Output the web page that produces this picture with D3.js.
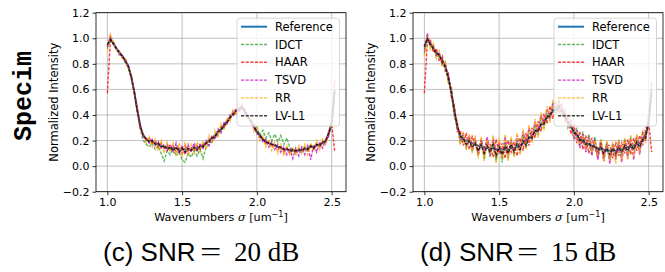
<!DOCTYPE html>
<html>
<head>
<meta charset="utf-8">
<script src="https://d3js.org/d3.v7.min.js"></script>
<style>
body { margin: 0; background: #fff; }
text { font-family: "DejaVu Sans", sans-serif; fill: #000; }
text.cap-sans { font-family: "Liberation Sans", Arimo, sans-serif; }
text.cap-serif { font-family: "Liberation Serif", serif; }
</style>
</head>
<body>
<svg id="chart" width="665" height="272"></svg>
<script>
// wavenumber samples (um^-1)
var wavenumbers = [1.00,1.02,1.04,1.06,1.08,1.10,1.12,1.14,1.16,1.18,1.20,1.22,1.24,1.26,1.28,1.30,1.32,1.34,1.36,1.38,
  1.40,1.42,1.44,1.46,1.48,1.50,1.52,1.54,1.56,1.58,1.60,1.62,1.64,1.66,1.68,1.70,1.72,1.74,1.76,1.78,
  1.80,1.82,1.84,1.86,1.88,1.90,1.92,1.94,1.96,1.98,2.00,2.02,2.04,2.06,2.08,2.10,2.12,2.14,2.16,2.18,
  2.20,2.22,2.24,2.26,2.28,2.30,2.32,2.34,2.36,2.38,2.40,2.42,2.44,2.46,2.48,2.50,2.52];

var reference = [0.94,0.99,0.96,0.92,0.89,0.86,0.83,0.78,0.70,0.58,0.44,0.31,0.24,0.21,0.20,0.19,0.18,0.17,0.16,0.15,
  0.15,0.14,0.14,0.14,0.13,0.13,0.13,0.13,0.13,0.14,0.14,0.15,0.16,0.18,0.20,0.22,0.24,0.27,0.29,0.32,
  0.35,0.38,0.41,0.43,0.45,0.46,0.43,0.39,0.35,0.31,0.27,0.24,0.21,0.19,0.18,0.17,0.16,0.15,0.14,0.13,
  0.13,0.12,0.12,0.12,0.12,0.13,0.13,0.14,0.15,0.15,0.16,0.17,0.18,0.20,0.25,0.33,0.60];

// (c) SNR = 20 dB
var idct20 = [0.92,1.00,0.95,0.93,0.88,0.85,0.82,0.77,0.69,0.57,0.42,0.29,0.20,0.17,0.15,0.18,0.13,0.16,0.10,0.04,
  0.12,0.09,0.14,0.08,0.11,0.05,0.03,0.10,0.07,0.12,0.08,0.13,0.06,0.15,0.17,0.19,0.23,0.24,0.28,0.30,
  0.34,0.39,0.40,0.44,0.43,0.47,0.44,0.37,0.36,0.33,0.31,0.24,0.28,0.22,0.26,0.20,0.25,0.19,0.24,0.17,
  0.22,0.15,0.13,0.10,0.14,0.11,0.15,0.12,0.17,0.13,0.18,0.15,0.19,0.18,0.26,0.31,0.52];
var haar20 = [0.57,0.98,0.97,0.91,0.90,0.85,0.84,0.77,0.71,0.57,0.45,0.30,0.25,0.20,0.22,0.17,0.20,0.15,0.18,0.13,
  0.17,0.12,0.16,0.11,0.15,0.10,0.16,0.11,0.15,0.12,0.16,0.13,0.18,0.16,0.21,0.19,0.25,0.25,0.31,0.30,
  0.36,0.36,0.43,0.41,0.46,0.45,0.44,0.38,0.36,0.29,0.28,0.22,0.22,0.17,0.19,0.15,0.17,0.13,0.15,0.11,
  0.14,0.10,0.13,0.11,0.13,0.12,0.14,0.12,0.16,0.13,0.17,0.15,0.19,0.19,0.27,0.34,0.12];
var tsvd20 = [0.93,1.02,0.95,0.93,0.87,0.87,0.81,0.79,0.69,0.59,0.43,0.33,0.23,0.22,0.18,0.21,0.16,0.19,0.14,0.17,
  0.12,0.17,0.11,0.18,0.10,0.16,0.09,0.17,0.11,0.18,0.12,0.17,0.14,0.20,0.16,0.24,0.21,0.29,0.26,0.34,
  0.33,0.40,0.39,0.45,0.42,0.48,0.41,0.40,0.33,0.32,0.25,0.25,0.19,0.21,0.15,0.19,0.13,0.17,0.11,0.15,
  0.09,0.14,0.06,0.14,0.08,0.15,0.09,0.16,0.05,0.17,0.11,0.19,0.14,0.21,0.23,0.37,0.66];
var rr20 = [0.90,1.03,0.97,0.91,0.90,0.84,0.84,0.76,0.72,0.56,0.47,0.29,0.26,0.18,0.23,0.15,0.21,0.12,0.20,0.10,
  0.19,0.11,0.19,0.08,0.18,0.07,0.19,0.08,0.17,0.10,0.19,0.11,0.20,0.13,0.24,0.18,0.28,0.23,0.33,0.29,
  0.38,0.35,0.44,0.40,0.49,0.44,0.45,0.36,0.38,0.27,0.30,0.20,0.24,0.15,0.21,0.12,0.19,0.10,0.17,0.08,
  0.16,0.09,0.15,0.08,0.16,0.10,0.17,0.09,0.18,0.12,0.20,0.13,0.22,0.17,0.28,0.32,0.68];
var lvl1_20 = [0.95,0.99,0.96,0.92,0.89,0.86,0.82,0.78,0.70,0.58,0.44,0.31,0.24,0.21,0.19,0.20,0.17,0.18,0.15,0.16,
  0.13,0.15,0.12,0.15,0.11,0.14,0.11,0.14,0.12,0.15,0.12,0.16,0.15,0.18,0.19,0.22,0.23,0.27,0.28,0.32,
  0.34,0.38,0.40,0.43,0.44,0.46,0.43,0.39,0.35,0.31,0.27,0.24,0.21,0.19,0.18,0.17,0.17,0.15,0.15,0.13,
  0.14,0.12,0.13,0.12,0.13,0.12,0.14,0.13,0.16,0.14,0.17,0.16,0.19,0.19,0.26,0.33,0.58];

// (d) SNR = 15 dB
var idct15 = [0.88,1.01,0.93,0.95,0.85,0.88,0.79,0.80,0.66,0.60,0.38,0.33,0.18,0.24,0.14,0.22,0.11,0.20,0.08,0.19,
  0.05,0.18,0.07,0.20,0.04,0.17,0.03,0.19,0.06,0.20,0.08,0.22,0.10,0.25,0.14,0.28,0.20,0.33,0.24,0.38,
  0.30,0.44,0.36,0.49,0.40,0.52,0.39,0.44,0.30,0.36,0.22,0.30,0.16,0.27,0.13,0.25,0.10,0.23,0.07,0.21,
  0.06,0.19,0.05,0.18,0.06,0.20,0.07,0.21,0.08,0.23,0.10,0.24,0.12,0.27,0.22,0.38,0.55];
var haar15 = [0.57,0.97,0.99,0.89,0.92,0.82,0.86,0.74,0.73,0.54,0.48,0.27,0.28,0.16,0.26,0.13,0.23,0.17,0.10,0.21,
  0.09,0.20,0.17,0.07,0.21,0.10,0.18,0.06,0.20,0.11,0.19,0.08,0.22,0.12,0.26,0.16,0.30,0.22,0.35,0.27,
  0.41,0.33,0.47,0.37,0.50,0.42,0.48,0.35,0.40,0.25,0.33,0.18,0.27,0.13,0.24,0.10,0.22,0.14,0.08,0.19,
  0.07,0.17,0.16,0.06,0.19,0.08,0.18,0.10,0.21,0.09,0.22,0.12,0.24,0.16,0.29,0.35,0.11];
var tsvd15 = [0.90,1.04,0.94,0.94,0.86,0.89,0.79,0.81,0.67,0.61,0.41,0.34,0.20,0.25,0.15,0.24,0.13,0.22,0.09,0.21,
  0.11,0.23,0.08,0.22,0.10,0.19,0.07,0.23,0.09,0.21,0.10,0.24,0.13,0.27,0.17,0.30,0.21,0.35,0.26,0.40,
  0.32,0.45,0.37,0.50,0.41,0.51,0.40,0.43,0.31,0.35,0.21,0.28,0.14,0.25,0.11,0.23,0.08,0.21,0.05,0.19,
  0.04,0.18,0.02,0.17,0.05,0.19,0.03,0.20,0.06,0.22,0.05,0.23,0.09,0.26,0.20,0.40,0.65];
var rr15 = [0.86,1.02,0.91,0.96,0.84,0.90,0.78,0.82,0.64,0.63,0.40,0.36,0.17,0.27,0.13,0.25,0.10,0.24,0.06,0.23,
  0.04,0.21,0.09,0.24,0.02,0.22,0.05,0.25,0.04,0.23,0.07,0.26,0.09,0.29,0.13,0.32,0.18,0.37,0.22,0.42,
  0.28,0.47,0.34,0.52,0.39,0.50,0.42,0.41,0.33,0.33,0.24,0.26,0.17,0.23,0.14,0.21,0.11,0.20,0.08,0.21,
  0.03,0.20,0.04,0.19,0.02,0.21,0.04,0.22,0.05,0.24,0.07,0.25,0.10,0.28,0.18,0.42,0.68];
var lvl1_15 = [0.93,1.00,0.95,0.92,0.88,0.87,0.81,0.78,0.69,0.59,0.43,0.32,0.23,0.22,0.17,0.20,0.15,0.18,0.12,0.17,
  0.10,0.16,0.11,0.17,0.08,0.15,0.09,0.16,0.10,0.17,0.11,0.18,0.13,0.20,0.16,0.23,0.22,0.28,0.27,0.33,
  0.33,0.39,0.39,0.44,0.43,0.47,0.42,0.40,0.34,0.32,0.26,0.25,0.20,0.21,0.17,0.18,0.15,0.16,0.12,0.15,
  0.10,0.14,0.09,0.14,0.10,0.15,0.11,0.16,0.12,0.17,0.13,0.19,0.15,0.21,0.22,0.35,0.57];

var methods = ["Reference", "IDCT", "HAAR", "TSVD", "RR", "LV-L1"];
var colors = ["#1f77b4", "#2ca02c", "#ff0000", "#bf00bf", "#ffa500", "#000000"];
var xTicks = [1.0, 1.5, 2.0, 2.5];
var yTicks = [-0.2, 0.0, 0.2, 0.4, 0.6, 0.8, 1.0, 1.2];
var panels = [
  {label: "(c) SNR", snr: "20 dB", series: [reference, idct20, haar20, tsvd20, rr20, lvl1_20]},
  {label: "(d) SNR", snr: "15 dB", series: [reference, idct15, haar15, tsvd15, rr15, lvl1_15]}
];

var svg = d3.select("#chart");
var top_ = 12.7, bottom = 191.7, w = 250;
var lefts = [96, 413];

// row label
svg.append("text")
  .attr("transform", "translate(31,96) rotate(-90)")
  .attr("text-anchor", "middle")
  .style("font-family", "'Liberation Mono', monospace")
  .style("font-weight", "bold")
  .style("font-size", "25px")
  .text("Specim");

panels.forEach(function(p, pi) {
  var left = lefts[pi];
  var xs = d3.scaleLinear().domain([0.924, 2.596]).range([0, w]);
  var ys = d3.scaleLinear().domain([-0.2, 1.2]).range([bottom - top_, 0]);
  var g = svg.append("g").attr("transform", "translate(" + left + "," + top_ + ")");
  var h = bottom - top_;

  g.append("clipPath").attr("id", "clip" + pi)
    .append("rect").attr("width", w).attr("height", h);

  // grid
  g.selectAll(".gx").data(xTicks).enter().append("line")
    .attr("x1", d => xs(d)).attr("x2", d => xs(d))
    .attr("y1", 0).attr("y2", h)
    .attr("stroke", "#b0b0b0").attr("stroke-width", 0.8);
  g.selectAll(".gy").data(yTicks).enter().append("line")
    .attr("y1", d => ys(d)).attr("y2", d => ys(d))
    .attr("x1", 0).attr("x2", w)
    .attr("stroke", "#b0b0b0").attr("stroke-width", 0.8);

  var line = d3.line()
    .x(function(d, i) { return xs(wavenumbers[i]); })
    .y(function(d) { return ys(d); });

  var lines = g.append("g").attr("clip-path", "url(#clip" + pi + ")");
  p.series.forEach(function(s, si) {
    lines.append("path")
      .attr("d", line(s))
      .attr("fill", "none")
      .attr("stroke", colors[si])
      .attr("stroke-width", si == 0 ? 2 : 1.4)
      .attr("stroke-opacity", si == 0 ? 1 : 0.75)
      .attr("stroke-dasharray", si == 0 ? null : "3.2,1.4");
  });

  // axes
  var xa = g.append("g").attr("transform", "translate(0," + h + ")")
    .call(d3.axisBottom(xs).tickValues(xTicks).tickFormat(d3.format(".1f")).tickSizeInner(3.5).tickSizeOuter(0).tickPadding(3));
  var ya = g.append("g")
    .call(d3.axisLeft(ys).tickValues(yTicks).tickFormat(function(d) { return d < 0 ? "\u22120.2" : d3.format(".1f")(d); }).tickSizeInner(3.5).tickSizeOuter(0).tickPadding(3));
  [xa, ya].forEach(function(a) {
    a.selectAll("text").style("font-size", "11px").style("font-family", "'DejaVu Sans', sans-serif");
    a.selectAll("line").attr("stroke-width", 0.8);
    a.select(".domain").remove();
  });
  g.append("rect").attr("width", w).attr("height", h)
    .attr("fill", "none").attr("stroke", "#000").attr("stroke-width", 0.8);

  // legend
  var lg = g.append("g").attr("transform", "translate(" + (w - 109) + ",5.5)");
  lg.append("rect").attr("width", 102.5).attr("height", 108).attr("rx", 3)
    .attr("fill", "#fff").attr("fill-opacity", 0.8)
    .attr("stroke", "#cccccc").attr("stroke-width", 0.8);
  methods.forEach(function(m, i) {
    var yy = 8.5 + i * 17.8;
    lg.append("line").attr("x1", 4).attr("x2", 30).attr("y1", yy).attr("y2", yy)
      .attr("stroke", colors[i])
      .attr("stroke-width", i == 0 ? 2 : 1.4)
      .attr("stroke-opacity", i == 0 ? 1 : 0.75)
      .attr("stroke-dasharray", i == 0 ? null : "3.2,1.4");
    lg.append("text").attr("x", 38).attr("y", yy + 4.2)
      .style("font-size", "11.5px").text(m);
  });

  // axis labels
  g.append("text").attr("x", w / 2).attr("y", 208.5)
    .attr("text-anchor", "middle").style("font-size", "11.2px")
    .html("Wavenumbers <tspan font-style='italic' font-family='DejaVu Serif'>\u03c3</tspan> [um<tspan dy='-4' font-size='8px'>\u22121</tspan><tspan dy='4'>]</tspan>");
  g.append("text")
    .attr("transform", "translate(-38," + (h / 2) + ") rotate(-90)")
    .attr("text-anchor", "middle").style("font-size", "11.5px")
    .text("Normalized Intensity");

  // caption: sans text, then math-style serif part
  var cap = svg.append("g").attr("transform", "translate(" + (left + 7) + ",261)");
  cap.append("text").attr("class", "cap-sans").style("font-size", "26px")
    .text(p.label);
  cap.append("text").attr("class", "cap-serif")
    .attr("transform", "translate(97,0) scale(1.4,1)")
    .style("font-size", "27px")
    .text("=");
  cap.append("text").attr("class", "cap-serif").attr("x", 131).style("font-size", "27px")
    .text(p.snr);
});
</script>
</body>
</html>
